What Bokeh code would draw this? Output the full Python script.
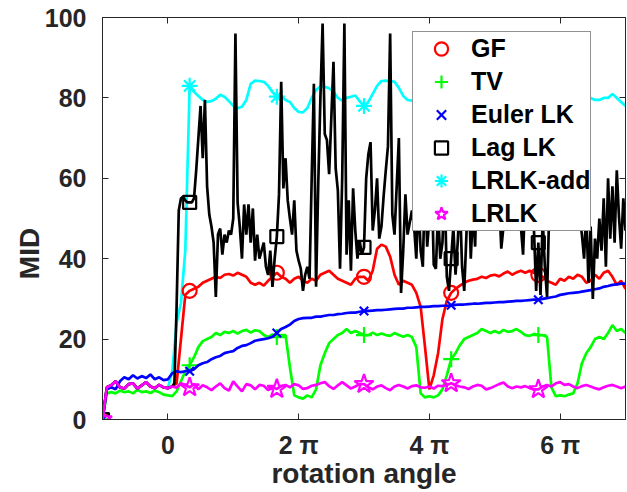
import numpy as np
from bokeh.plotting import figure
from bokeh.models import Range1d, LinearAxis, FixedTicker, Legend, LegendItem
from bokeh.embed import file_html
from bokeh.resources import INLINE

# rotation angle grid (in units of pi)
x_main = -1 + np.arange(121) / 15.0
x_lag = -1 + np.arange(241) / 30.0
mk_main = [0, 20, 40, 60, 80, 100]
mk_lag = [0, 40, 80, 120, 160, 200]

x_ticks = [0, 2, 4, 6]
x_tick_labels = ["0", "2 \u03c0", "4 \u03c0", "6 \u03c0"]
y_ticks = [0, 20, 40, 60, 80, 100]

gf = [0, 8, 8.5, 9.5, 8, 7.7, 8.8, 9, 7.7, 8.5, 9.3, 8.2, 7.8, 8.6, 8, 7.8,
      8.2, 9, 20, 31, 32, 32.5, 33, 34, 34.5, 35, 35.5, 35.2, 36, 36.2,
      35.8, 36.5, 36, 35.5, 34, 33.5, 34, 33.3, 34.5, 35.5, 36.5, 35.5, 35, 34, 35,
      35.5, 34.5, 34, 35, 34.5, 36, 36.5, 37, 36, 35, 34.5, 34, 33.5, 35, 35.5,
      35.5, 34.5, 37, 42.5, 43.5, 43, 40.5, 36, 33.5, 34.5, 34, 33.5, 31.5, 28, 18,
      7.5, 11, 16.5, 25, 29.5, 31.5, 32.5, 33.3, 34, 34.5, 34.8, 35, 35.5, 35.2, 35.8,
      36, 35.6, 36.3, 36.8, 36, 36.6, 37, 36.5, 37, 36.5, 36, 35.5, 34.5, 34, 33.5,
      35, 34.5, 35.5, 35, 36, 35.5, 34, 34.5, 36, 35, 36.5, 37, 35.5, 33.5, 34.5, 32.5]

tv = [0, 6.5, 6.8, 6.5, 7.2, 6.8, 7, 6.5, 7.4, 6.8, 7, 6.6, 7.2, 6.8, 6.2,
      6, 5.8, 7, 9.5, 12, 13.5, 15.5, 18, 19.5, 20, 20.5, 21.5, 21, 21.8, 21.5,
      22, 21.4, 22, 22.3, 21.6, 22.2, 22, 21, 20.5, 21.2, 20.5, 21, 21, 13, 6,
      5.5, 5.2, 6, 5.5, 7.5, 13.5, 16.5, 19, 20, 21, 21.5, 22.5, 21.5, 22, 21.5,
      21, 21, 21.6, 21, 21.4, 21, 20.8, 21.5, 21, 20.6, 21, 20.5, 18, 6.5, 5.5,
      5.8, 5.5, 6, 7.5, 11, 15, 16.5, 18.5, 20, 20.5, 21, 21.5, 22.5, 22, 21.5,
      22, 21.5, 22.3, 21.8, 22, 22.5, 21.8, 21, 20.8, 21.3, 21, 21, 20.5, 8, 5.8,
      6, 5.8, 6.2, 6.5, 9, 14, 16.5, 18, 20, 20.5, 20, 21.5, 23.5, 22, 22.5, 21.5]

euler_lk = [0, 7.5, 8, 7.5, 9.5, 10.5, 10, 11, 10.2, 10.8, 10.3, 11.2, 10, 10.5, 9.8,
            10, 11.5, 12, 11.8, 12, 12, 12.5, 13.5, 14, 14.3, 15, 15.5, 15.8, 16.5, 16.8,
            17, 17.8, 18.3, 18.5, 19, 19.6, 19.8, 20, 20.2, 20.6, 21.5, 22.5, 23, 23.6, 24.5,
            25, 25.2, 25.3, 25.3, 25.6, 25.6, 25.8, 26, 26, 26.2, 26.3, 26.5, 26.6, 26.6, 26.8,
            27, 27, 27.1, 27.2, 27.2, 27.3, 27.4, 27.5, 27.6, 27.6, 27.8, 27.8, 27.9, 28, 28,
            28.1, 28.2, 28.2, 28.3, 28.3, 28.4, 28.5, 28.6, 28.6, 28.7, 28.8, 28.8, 28.9, 29, 29,
            29.1, 29.2, 29.2, 29.3, 29.4, 29.5, 29.5, 29.6, 29.7, 29.8, 29.8, 30, 30.2, 30.4, 30.6,
            31, 31.2, 31.4, 31.5, 31.6, 31.8, 32, 32.2, 32.4, 32.6, 33, 33.2, 33.5, 33.6, 33.8, 33.8]

lag_lk = [0, 4, 8, 8.25, 8.5, 9, 9.5, 8.75, 8, 7.85, 7.7, 8.25, 8.8, 8.9, 9, 8.35,
          7.7, 8.1, 8.5, 8.9, 9.3, 8.75, 8.2, 8, 7.8, 8.2, 8.6, 8.3, 8, 7.9, 7.8, 8,
          8.2, 9, 28, 52, 55, 55.5, 54.5, 54, 54, 54, 55, 62, 70, 78, 65, 79.5, 58, 51,
          48, 44, 30.5, 46, 47.5, 41, 46, 44, 47, 46, 50, 96, 54, 48, 40, 53.5, 46, 53.5,
          44, 52.5, 39.5, 46, 40, 42, 44, 38, 36, 42, 33, 40, 45.5, 56, 84, 57.5, 65, 54.5,
          50, 46, 54.5, 42, 39.5, 37.5, 32, 36, 38, 35, 60, 83.5, 33, 58.5, 80, 98.5, 71,
          69.5, 61, 75, 89, 62.5, 57, 37.5, 60, 98.5, 41, 54.5, 37, 57.5, 47, 40, 44.5, 41,
          42.8, 60, 66, 69, 47, 52, 60, 45, 48, 55.5, 62, 68, 96, 51, 46, 58, 70, 31.5, 42,
          56, 46, 49, 52, 48, 40, 55, 42, 38, 60, 43, 50, 62, 38.5, 37.5, 52, 40, 44, 58,
          35.5, 32, 40, 48, 36, 44, 55, 38, 32, 46, 60, 40, 52, 43, 65, 55, 70, 50, 62, 58,
          75, 52, 60, 48, 55, 42.5, 48, 65, 52, 58, 70, 50, 62, 55, 48, 41, 56, 62, 50, 58,
          47, 32, 44, 31, 50, 38, 30.5, 52, 60, 48, 66, 54, 62, 50, 72, 56, 60, 48, 64, 55,
          58, 50, 46, 40, 52, 34, 48, 30, 45, 40, 50, 42, 55, 38, 60, 45, 58, 44, 62, 50.5,
          42.5, 55, 47]

lrlk_add = [0, 8, 8.5, 9.5, 8, 7.7, 8.8, 9, 7.7, 8.5, 9.3, 8.2, 7.8, 8.6, 8, 7.8,
            12, 24, 29, 42, 83, 81.5, 80.5, 79.5, 79, 79.2, 79.8, 80.8, 80.3, 79.2,
            78, 77.4, 77.8, 79.5, 83.5, 84.3, 84.2, 84, 83, 81.5, 80.3, 80.4, 79.5, 79, 77.5,
            76.5, 76.4, 77.5, 80, 82, 82.8, 82.8, 82.4, 81.5, 80, 79.3, 80, 80.3, 80.6, 79.2,
            78, 79, 81, 83, 84.2, 84.3, 84.2, 84, 82.5, 80.5, 79.5, 79.3, 80, 81.5, 83,
            83.5, 82, 80, 79, 78.5, 79, 80.5, 82.5, 83.8, 83.5, 82, 80, 78.5, 78, 79.5,
            81.5, 83, 84, 83.2, 81, 79.5, 78.5, 79, 80.5, 82, 80, 79, 80.5, 82.5, 84,
            83.5, 82, 80.5, 79, 78.5, 79.5, 80, 80, 79.5, 79.5, 80, 80, 81, 80, 79, 78]

lrlk = [0, 8, 8.5, 9.5, 8, 7.7, 8.8, 9, 7.7, 8.5, 9.3, 8.2, 7.8, 8.6, 8,
        7.8, 8.2, 7.9, 9, 8.5, 8, 8.8, 7.5, 8.5, 8, 7.3, 8.2, 9, 7.8, 7.2,
        9.5, 8.2, 7, 8.8, 8.5, 7.5, 8.6, 8.4, 7.3, 8, 7.6, 8.3, 8.6, 8, 8.8,
        8.5, 7.6, 7.8, 8.4, 8.6, 9, 9.3, 8.3, 7.6, 8.5, 9.3, 8.5, 7.7, 8.2, 8.8,
        8.8, 8, 7.5, 8.2, 8.5, 7.8, 7.3, 8.2, 8.6, 8.2, 7.7, 8.3, 8.5, 8, 7.9,
        8.2, 7.7, 8.4, 8.3, 8.6, 9, 8.5, 8.2, 8, 7.6, 8.2, 8.6, 8.4, 7.5, 7.8,
        8.3, 8.8, 9.2, 8.2, 7.8, 8.2, 8, 8.3, 7.8, 7.5, 7.5, 8.2, 8.6, 8.2, 9,
        9.3, 8.6, 8.8, 8.2, 7.8, 8.3, 8.6, 8.2, 7.8, 7.5, 8, 8.4, 8.6, 8.2, 7.8, 8.2]

for s in (gf, tv, euler_lk, lrlk_add, lrlk):
    assert len(s) == 121, len(s)
assert len(lag_lk) == 241, len(lag_lk)

FONT = "Liberation Sans"
AX = "#262626"

p = figure(width=627, height=492, x_range=Range1d(-1, 7), y_range=Range1d(0, 100),
           output_backend="svg", toolbar_location=None,
           min_border_left=102, min_border_right=2, min_border_top=17, min_border_bottom=73)
p.xgrid.visible = False
p.ygrid.visible = False
p.outline_line_color = AX
p.background_fill_color = "white"
p.border_fill_color = "white"

def style_axis(ax, show_labels=True):
    ax.axis_line_color = AX
    ax.axis_line_width = 1
    ax.major_tick_line_color = AX
    ax.major_tick_line_width = 1
    ax.major_tick_in = 6
    ax.major_tick_out = 0
    ax.minor_tick_line_color = None
    ax.major_label_text_font = FONT
    ax.major_label_text_font_style = "bold"
    ax.major_label_text_color = AX
    if show_labels:
        ax.major_label_text_font_size = "25px"
    else:
        ax.major_label_text_font_size = "0px"
        ax.major_label_standoff = 0
        ax.axis_label_standoff = 0

xax = p.xaxis[0]
xax.ticker = FixedTicker(ticks=x_ticks)
xax.major_label_overrides = {t: l for t, l in zip(x_ticks, x_tick_labels)}
style_axis(xax)
xax.major_label_standoff = 11
xax.axis_label = "rotation angle"
xax.axis_label_text_font = FONT
xax.axis_label_text_font_style = "bold"
xax.axis_label_text_font_size = "28px"
xax.axis_label_text_color = AX
xax.axis_label_standoff = -4

yax = p.yaxis[0]
yax.ticker = FixedTicker(ticks=y_ticks)
style_axis(yax)
yax.major_label_standoff = 16
yax.axis_label = "MID" + "\u00a0" * 9
yax.axis_label_text_font = FONT
yax.axis_label_text_font_style = "bold"
yax.axis_label_text_font_size = "28px"
yax.axis_label_text_color = AX
yax.axis_label_standoff = -3

top = LinearAxis(ticker=FixedTicker(ticks=x_ticks))
style_axis(top, False)
p.add_layout(top, "above")
right = LinearAxis(ticker=FixedTicker(ticks=y_ticks))
style_axis(right, False)
p.add_layout(right, "right")

LW = 2.7
series = [
    ("LRLK-add", x_main, lrlk_add, mk_main, "#00FFFF", "asterisk", 16),
    ("GF", x_main, gf, mk_main, "#FF0000", "circle", 14),
    ("TV", x_main, tv, mk_main, "#00FF00", "cross", 16),
    ("Euler LK", x_main, euler_lk, mk_main, "#0000FF", "x", 12),
    ("Lag LK", x_lag, lag_lk, mk_lag, "#000000", "square", 13),
    ("LRLK", x_main, lrlk, mk_main, "#FF00FF", "star", 20),
]
marker_r = {}
for name, xs, ys, mk, col, m, sz in series:
    p.line(list(xs), ys, line_color=col, line_width=LW)
    mx = [float(xs[i]) for i in mk]
    my = [ys[i] for i in mk]
    marker_r[name] = p.scatter(mx, my, marker=m, size=sz, line_color=col,
                               fill_color=None, line_width=2.2)

order = ["GF", "TV", "Euler LK", "Lag LK", "LRLK-add", "LRLK"]
legend = Legend(items=[LegendItem(label=n, renderers=[marker_r[n]]) for n in order],
                location=(310, 188), margin=0, padding=0, spacing=0,
                glyph_width=56, glyph_height=33, label_height=33, label_width=100,
                label_standoff=2, label_text_font=FONT, label_text_font_style="bold",
                label_text_font_size="25px", label_text_color="black",
                border_line_color=AX, border_line_width=1,
                background_fill_color="white", background_fill_alpha=1.0)
p.add_layout(legend)

open("out.html", "w").write(file_html(p, INLINE))
